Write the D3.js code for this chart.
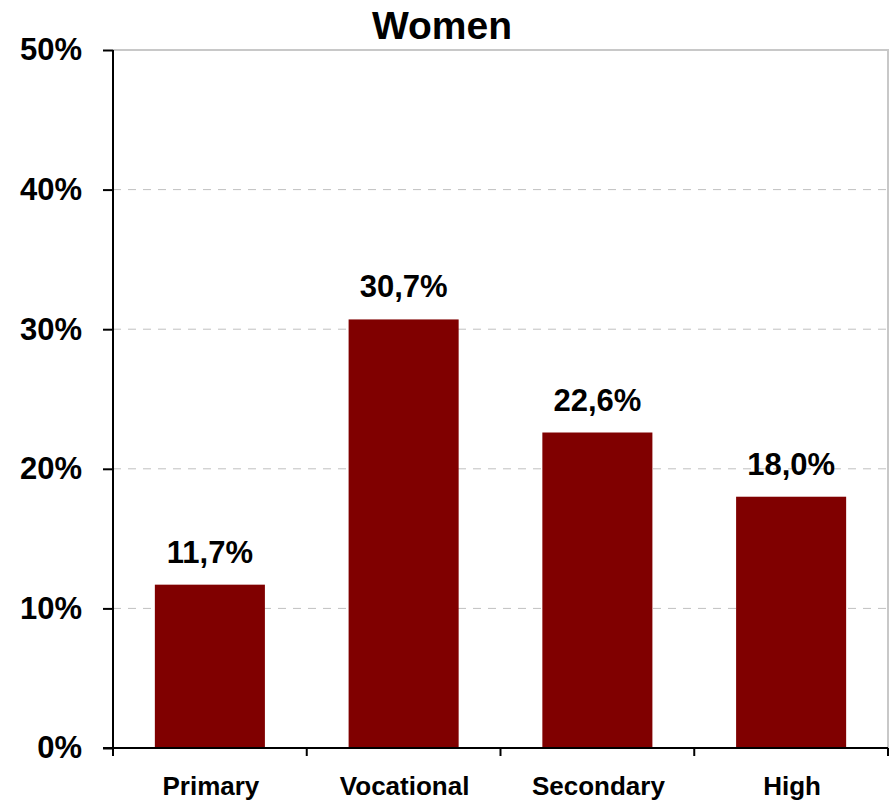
<!DOCTYPE html>
<html>
<head>
<meta charset="utf-8">
<script src="https://cdn.jsdelivr.net/npm/d3@7"></script>
<style>
  html, body { margin: 0; padding: 0; background: #fff; }
  svg { display: block; font-family: "Liberation Sans", Arial, sans-serif; font-weight: bold; }
</style>
</head>
<body>
<script>
const title = "Women";
const categories = ["Primary", "Vocational", "Secondary", "High"];
const values = [11.7, 30.7, 22.6, 18.0];
const valueLabels = ["11,7%", "30,7%", "22,6%", "18,0%"];
const yTicks = [0, 10, 20, 30, 40, 50];
const yTickLabels = ["0%", "10%", "20%", "30%", "40%", "50%"];

const W = 892, H = 801;
const mLeft = 113, mRight = 888, mTop = 50, mBottom = 748;

const svg = d3.select("body").append("svg").attr("width", W).attr("height", H);

const x = d3.scaleBand().domain(categories).range([mLeft, mRight]).paddingInner(0.432).paddingOuter(0.216);
const xEdges = d3.scaleLinear().domain([0, categories.length]).range([mLeft, mRight]);
const y = d3.scaleLinear().domain([0, 50]).range([mBottom, mTop]);

// gridlines
svg.append("g").selectAll("line").data(yTicks.filter(t => t > 0 && t < 50)).join("line")
  .attr("x1", mLeft).attr("x2", mRight)
  .attr("y1", d => y(d)).attr("y2", d => y(d))
  .attr("stroke", "#c0c0c0").attr("stroke-width", 1)
  .attr("stroke-dasharray", "8,7");

// plot border (top & right)
svg.append("path")
  .attr("d", `M${mLeft},${y(50)}H${mRight}V${y(0)}`)
  .attr("fill", "none").attr("stroke", "#c8c8c8").attr("stroke-width", 2);

// bars
svg.append("g").selectAll("rect").data(values).join("rect")
  .attr("x", (d, i) => x(categories[i]))
  .attr("width", x.bandwidth())
  .attr("y", d => y(d))
  .attr("height", d => y(0) - y(d))
  .attr("fill", "#800000");

// value labels
svg.append("g").selectAll("text").data(values).join("text")
  .attr("x", (d, i) => x(categories[i]) + x.bandwidth() / 2)
  .attr("y", d => y(d) - 22)
  .attr("text-anchor", "middle")
  .attr("font-size", 31)
  .attr("fill", "#000")
  .text((d, i) => valueLabels[i]);

// y axis
const yAxis = d3.axisLeft(y).tickValues(yTicks).tickFormat((d, i) => yTickLabels[i]).tickSize(10).tickPadding(21);
const gy = svg.append("g").attr("transform", `translate(${mLeft},0)`).call(yAxis);
gy.select(".domain").attr("stroke", "#000").attr("stroke-width", 2).attr("d", `M0,${y(50)}V${y(0)}`);
gy.selectAll(".tick line").attr("stroke", "#000").attr("stroke-width", 2);
gy.selectAll(".tick text").attr("font-size", 31).attr("font-family", "Liberation Sans, Arial, sans-serif")
  .attr("font-weight", "bold").attr("fill", "#000");

// x axis line
svg.append("line").attr("x1", mLeft - 10).attr("x2", mRight)
  .attr("y1", mBottom).attr("y2", mBottom).attr("stroke", "#000").attr("stroke-width", 2);
// x ticks at category edges
svg.append("g").selectAll("line").data(d3.range(categories.length + 1)).join("line")
  .attr("x1", d => xEdges(d)).attr("x2", d => xEdges(d))
  .attr("y1", mBottom).attr("y2", mBottom + 8)
  .attr("stroke", "#000").attr("stroke-width", 2);
// category labels
svg.append("g").selectAll("text").data(categories).join("text")
  .attr("x", d => x(d) + x.bandwidth() / 2 + 1)
  .attr("y", 795)
  .attr("text-anchor", "middle")
  .attr("font-size", 26)
  .attr("fill", "#000")
  .text(d => d);

// title
svg.append("text").attr("x", 442).attr("y", 39).attr("text-anchor", "middle")
  .attr("font-size", 39).attr("fill", "#000").text(title);
</script>
</body>
</html>
